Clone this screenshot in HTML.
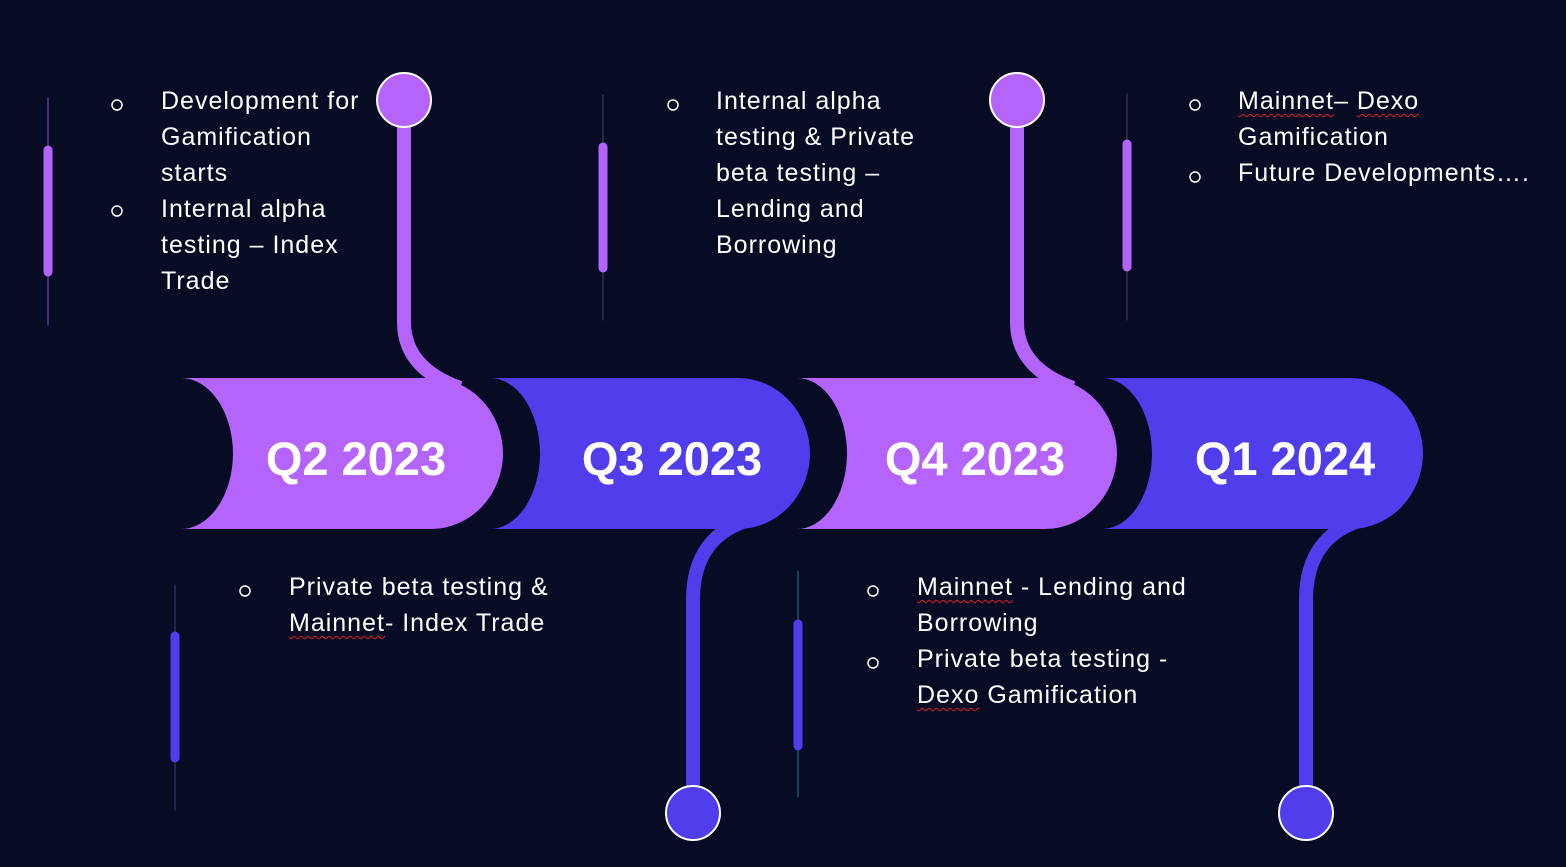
<!DOCTYPE html>
<html><head><meta charset="utf-8"><style>
html,body{margin:0;padding:0;background:#070c24;}
body{width:1566px;height:867px;position:relative;overflow:hidden;font-family:"Liberation Sans",sans-serif;}
.t{position:absolute;color:#fff;font-size:25px;line-height:36px;letter-spacing:1px;white-space:nowrap;}
.w{text-decoration:underline wavy #e02020 1px;text-underline-offset:4px;}
</style></head><body>
<svg width="1566" height="867" style="position:absolute;left:0;top:0" xmlns="http://www.w3.org/2000/svg">
<g stroke-linecap="round">
<line x1="48" y1="98" x2="48" y2="325" stroke="#8a4fd0" stroke-width="1"/>
<line x1="48" y1="150" x2="48" y2="272" stroke="#b564fb" stroke-width="9"/>
<line x1="603" y1="95" x2="603" y2="320" stroke="#3a4a66" stroke-width="1"/>
<line x1="603" y1="147" x2="603" y2="268" stroke="#b564fb" stroke-width="9"/>
<line x1="1127" y1="94" x2="1127" y2="320" stroke="#3a4a66" stroke-width="1"/>
<line x1="1127" y1="144" x2="1127" y2="267" stroke="#b564fb" stroke-width="9"/>
<line x1="175" y1="585" x2="175" y2="810" stroke="#3a3f80" stroke-width="1"/>
<line x1="175" y1="636" x2="175" y2="758" stroke="#523ded" stroke-width="9"/>
<line x1="798" y1="571" x2="798" y2="797" stroke="#1e7f8a" stroke-width="1"/>
<line x1="798" y1="624" x2="798" y2="746" stroke="#523ded" stroke-width="9"/>
</g>
<g fill="none" stroke-width="14">
<path d="M404 100 V322 Q404 368 460 388" stroke="#b564fb"/>
<path d="M1017 100 V322 Q1017 368 1073 388" stroke="#b564fb"/>
<path d="M752 519 Q693 535 693 600 V813" stroke="#523ded"/>
<path d="M1365 519 Q1306 535 1306 600 V813" stroke="#523ded"/>
</g>
<path d="M180 378 H431 A72 76 0 0 1 503 454 A72 76 0 0 1 431 529 H180 A52 76 0 0 0 233 454 A52 76 0 0 0 180 378 Z" fill="#b564fb"/>
<path d="M489 378 H738 A72 76 0 0 1 810 454 A72 76 0 0 1 738 529 H489 A50 76 0 0 0 540 454 A50 76 0 0 0 489 378 Z" fill="#523ded"/>
<path d="M796 378 H1045 A72 76 0 0 1 1117 454 A72 76 0 0 1 1045 529 H796 A50 76 0 0 0 847 454 A50 76 0 0 0 796 378 Z" fill="#b564fb"/>
<path d="M1103 378 H1350 A73 76 0 0 1 1423 454 A73 76 0 0 1 1350 529 H1103 A50 76 0 0 0 1152 454 A50 76 0 0 0 1103 378 Z" fill="#523ded"/>
<circle cx="404" cy="100" r="27" fill="#b564fb" stroke="#fff" stroke-width="2"/>
<circle cx="1017" cy="100" r="27" fill="#b564fb" stroke="#fff" stroke-width="2"/>
<circle cx="693" cy="813" r="27" fill="#523ded" stroke="#fff" stroke-width="2"/>
<circle cx="1306" cy="813" r="27" fill="#523ded" stroke="#fff" stroke-width="2"/>
<g fill="none" stroke="#fff" stroke-width="1.5">
<circle cx="117" cy="105" r="5"/><circle cx="117" cy="211" r="5"/>
<circle cx="673" cy="105" r="5"/>
<circle cx="1195" cy="105" r="5"/><circle cx="1195" cy="177" r="5"/>
<circle cx="245" cy="591" r="5"/>
<circle cx="873" cy="591" r="5"/><circle cx="873" cy="663" r="5"/>
</g>
<g fill="#fff" font-family="Liberation Sans, sans-serif" font-weight="bold" font-size="47" text-anchor="middle">
<text x="356" y="475">Q2 2023</text>
<text x="672" y="475">Q3 2023</text>
<text x="975" y="475">Q4 2023</text>
<text x="1285" y="475">Q1 2024</text>
</g>
</svg>
<div class="t" style="left:161px;top:83px">Development for<br>Gamification<br>starts<br>Internal alpha<br>testing – Index<br>Trade</div>
<div class="t" style="left:716px;top:83px">Internal alpha<br>testing &amp; Private<br>beta testing –<br>Lending and<br>Borrowing</div>
<div class="t" style="left:1238px;top:83px"><span class="w">Mainnet</span>– <span class="w">Dexo</span><br>Gamification<br>Future Developments….</div>
<div class="t" style="left:289px;top:569px">Private beta testing &amp;<br><span class="w">Mainnet</span>- Index Trade</div>
<div class="t" style="left:917px;top:569px"><span class="w">Mainnet</span> - Lending and<br>Borrowing<br>Private beta testing -<br><span class="w">Dexo</span> Gamification</div>
</body></html>
